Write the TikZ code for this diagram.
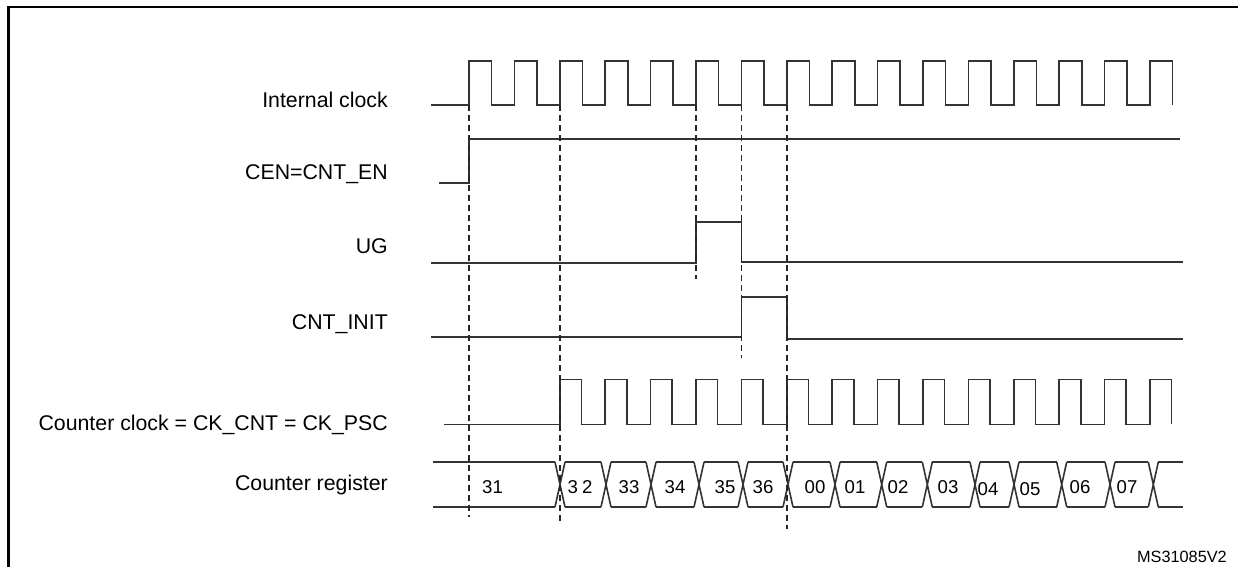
\documentclass[tikz,border=0pt]{standalone}
\usepackage{fontspec}
\setmainfont{Liberation Sans}
\usetikzlibrary{positioning,calc}

\begin{document}
\begin{tikzpicture}[x=1pt, y=-1pt,
    sig/.style={line width=1.6pt, black!80},
    guide/.style={line width=1.5pt, black!85, dash pattern=on 6pt off 4pt},
    lbl/.style={anchor=base east, inner sep=0pt, font=\fontsize{21.3}{24}\selectfont},
    val/.style={anchor=base, inner sep=0pt, font=\fontsize{18.6}{21}\selectfont}]
    \useasboundingbox (0,0) rectangle (1238,566);

    % Frame
    \draw[line width=2.4pt] (8.5,580) -- (8.5,7) -- (1250,7);

    % Signal names
    \node[lbl] (lclk) at (388,107.6) {Internal clock};
    \node[lbl] (lcen) at (388,179.6) {CEN=CNT\_EN};
    \node[lbl] (lug) at (388,253.3) {UG};
    \node[lbl] (linit) at (388,329.9) {CNT\_INIT};
    \node[lbl] (lcnt) at (388,430.9) {Counter clock = CK\_CNT = CK\_PSC};
    \node[lbl] (lreg) at (388,490.9) {Counter register};

    % Internal clock
    \draw[sig] (431,105) \foreach \i in {0,...,15}{
        -- ({469+45.4*\i},105) -- ({469+45.4*\i},61)
        -- ({491.5+45.4*\i},61) -- ({491.5+45.4*\i},105)};

    % CEN, UG and CNT_INIT
    \draw[sig] (439,183) -- (469,183) -- (469,139) -- (1180,139);
    \draw[sig] (431,263) -- (696,263) -- (696,222) -- (741.4,222) -- (741.4,262) -- (1183,262);
    \draw[sig] (431,337) -- (741.4,337) -- (741.4,297) -- (786.8,297) -- (786.8,339) -- (1183,339);

    % Counter clock
    \draw[sig] (444,424.3) \foreach \i in {2,...,15}{
        -- ({469+45.4*\i},424.3) -- ({469+45.4*\i},379.3)
        -- ({490.5+45.4*\i},379.3) -- ({490.5+45.4*\i},424.3)};

    % Counter register
    \foreach \t in {560,606,651,699,743,788,835,881.7,927.3,975,1014,1061.7,1110,1153.3}
        \draw[sig] ({\t-5},462) -- ({\t+5},507) ({\t-5},507) -- ({\t+5},462);
    \foreach \a/\b in {428/560,560/606,606/651,651/699,699/743,743/788,788/835,835/881.7,
        881.7/927.3,927.3/975,975/1014,1014/1061.7,1061.7/1110,1110/1153.3,1153.3/1188}
        \draw[sig] ({\a+5},462) -- ({\b-5},462) ({\a+5},507) -- ({\b-5},507);
    \foreach \x/\y/\v [count=\k] in {492.5/493.3/31, 580/493.3/{3\kern4pt 2}, 629/493.3/33,
        675/493.3/34, 725/493.3/35, 763/493.3/36, 815/493.3/00, 855/493.3/01, 898/493.3/02,
        948/493.3/03, 988/495.5/04, 1030/495.5/05, 1080/493.3/06, 1127/493.3/07}
        \node[val] (reg\k) at (\x,\y) {\v};

    % Guides
    \foreach \x/\y in {469/517, 559.8/524, 696/279, 741.4/358, 786.8/529}
        \draw[guide] (\x,105) -- (\x,\y);

    \node[anchor=base east, inner sep=0pt, font=\fontsize{16.3}{18}\selectfont] (ref) at (1227,562.7) {MS31085V2};
\end{tikzpicture}
\end{document}
